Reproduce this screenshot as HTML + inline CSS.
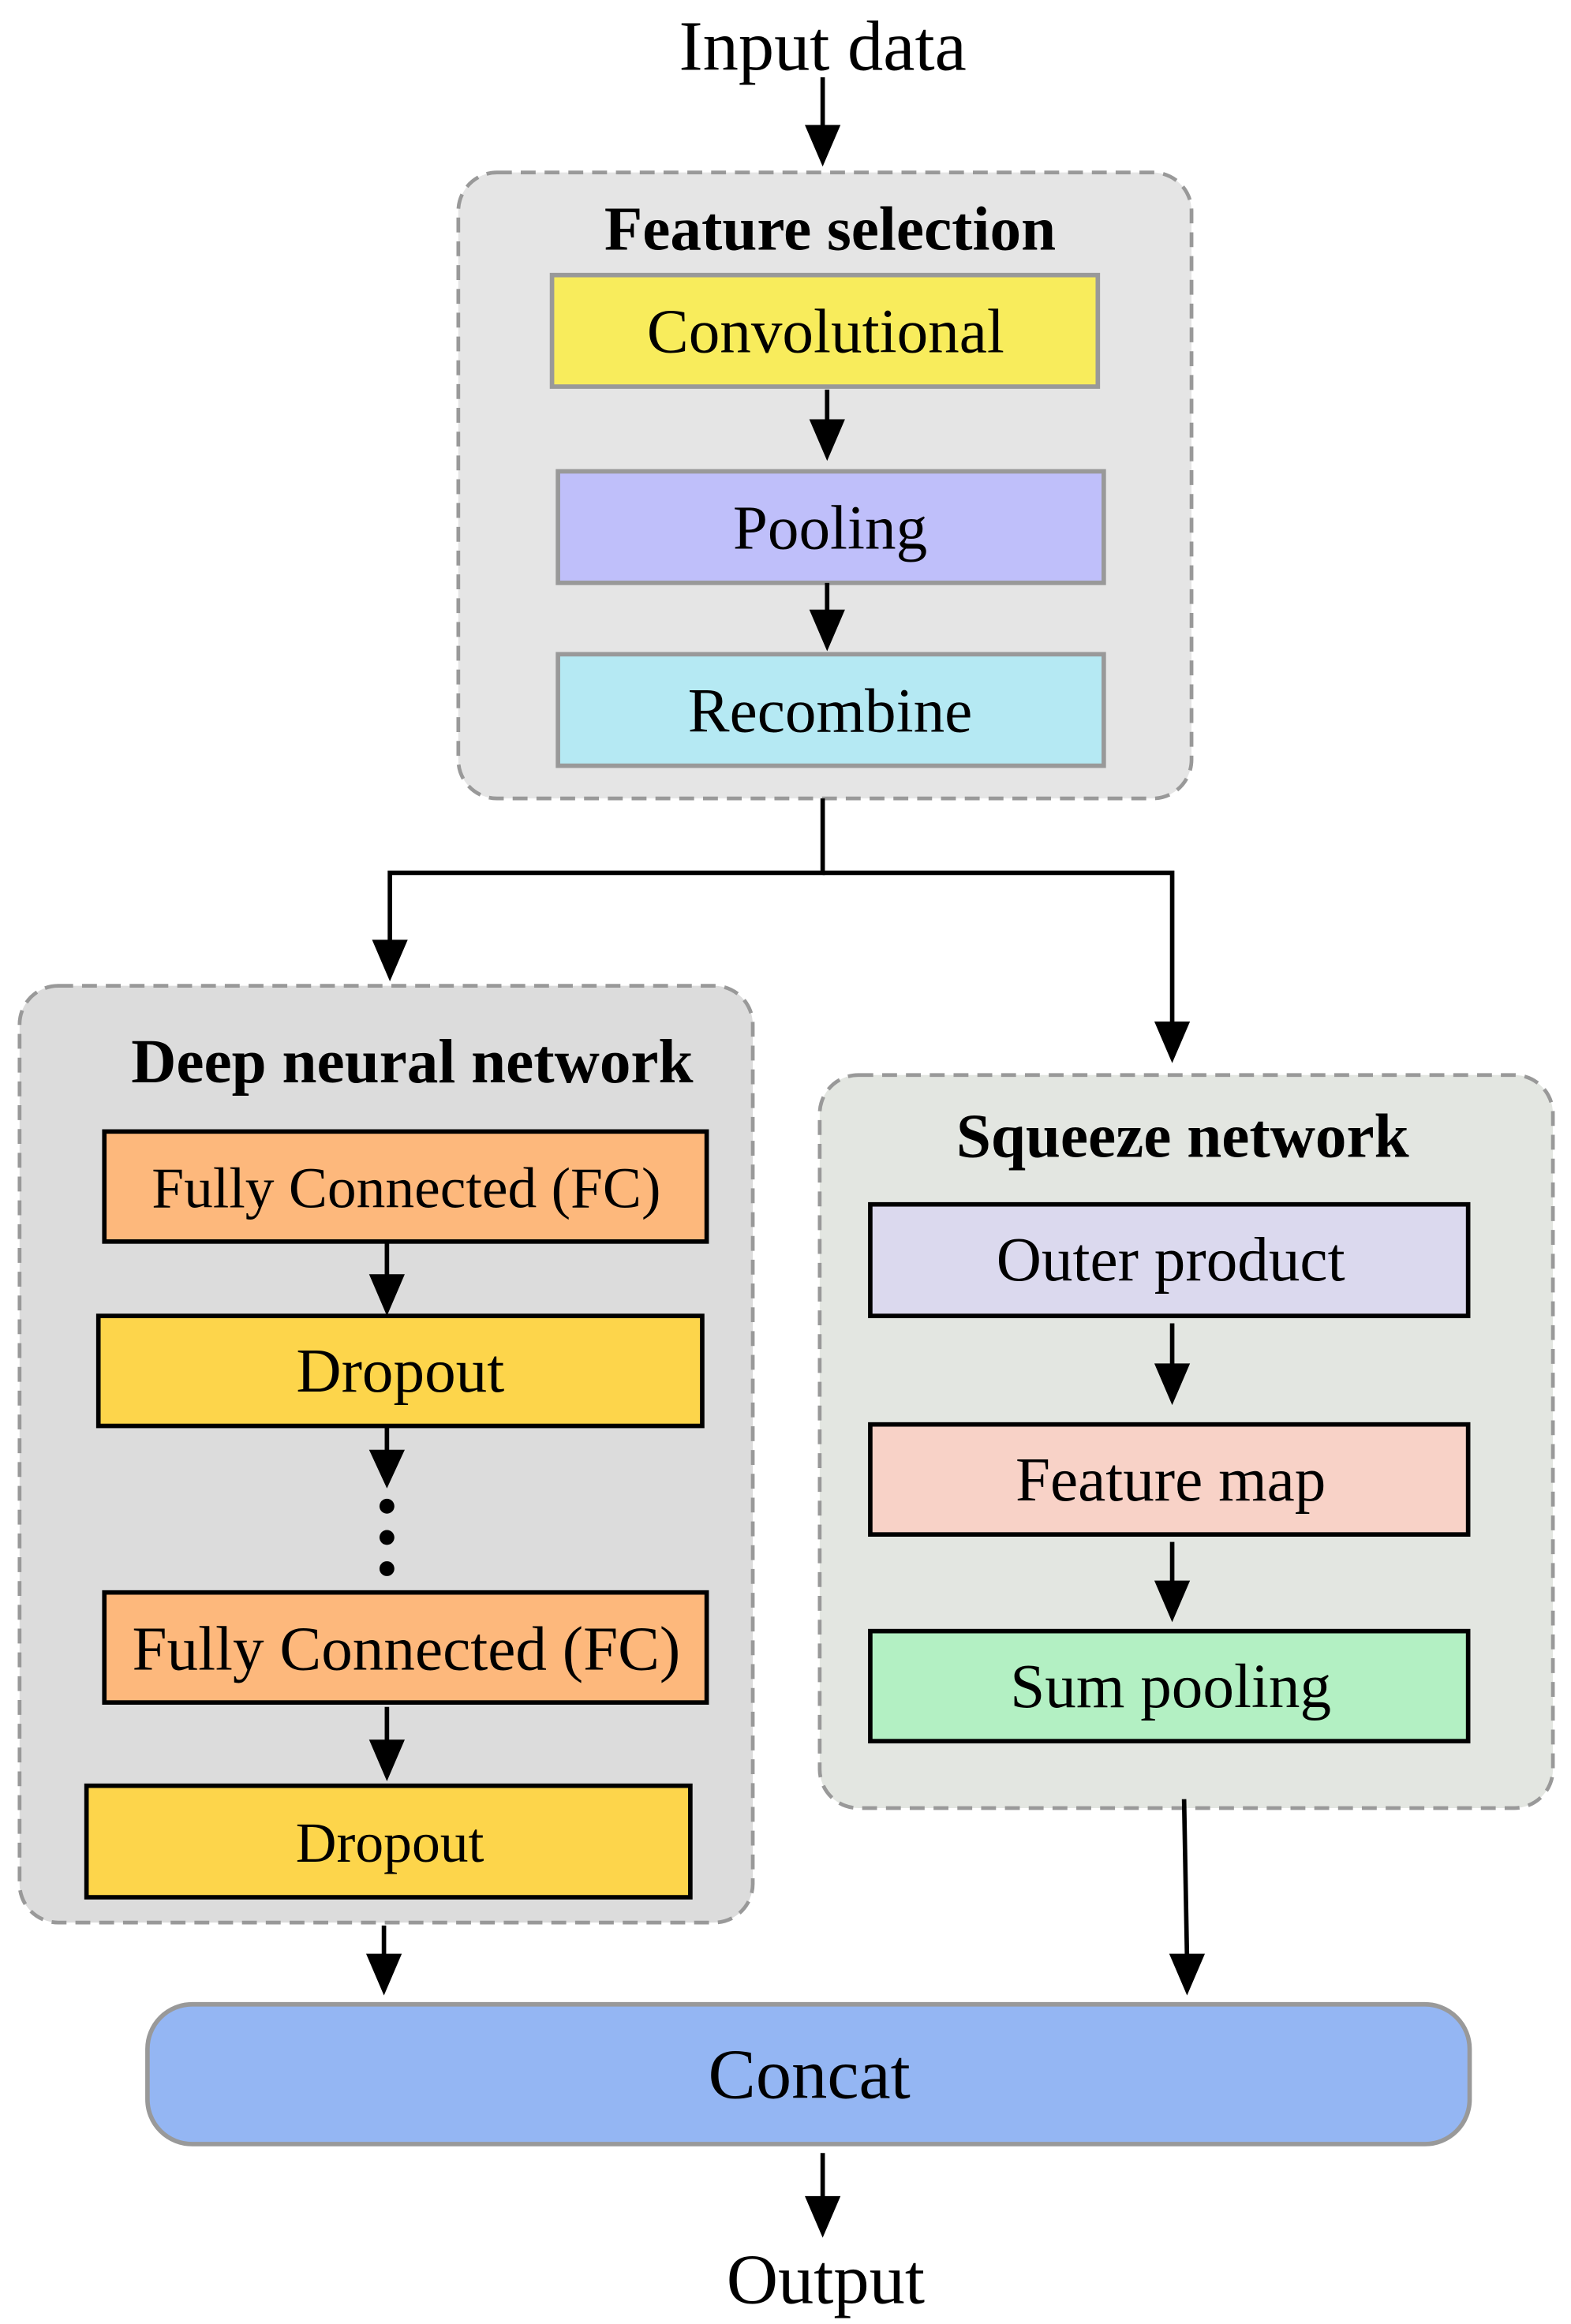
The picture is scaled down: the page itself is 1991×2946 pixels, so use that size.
<!DOCTYPE html>
<html><head><meta charset="utf-8"><style>
html,body{margin:0;padding:0;background:#fff;}
svg{display:block;}
text{font-family:"Liberation Serif",serif;fill:#000;}
</style></head><body>
<svg width="1991" height="2946" viewBox="0 0 1056 1563" xmlns="http://www.w3.org/2000/svg">
<text x="553" y="47" font-size="48" text-anchor="middle">Input data</text>
<rect x="308" y="116" width="493" height="421" rx="26" fill="#e5e5e5" stroke="#999" stroke-width="2.5" stroke-dasharray="10,6"/>
<text x="558" y="168" font-size="42" font-weight="bold" text-anchor="middle">Feature selection</text>
<rect x="371" y="185" width="367" height="75" fill="#f8ec5c" stroke="#999" stroke-width="3"/>
<text x="555" y="237" font-size="42" text-anchor="middle">Convolutional</text>
<rect x="375" y="317" width="367" height="75" fill="#bfbffa" stroke="#999" stroke-width="3"/>
<text x="558" y="369" font-size="42" text-anchor="middle">Pooling</text>
<rect x="375" y="440" width="367" height="75" fill="#b5e9f3" stroke="#999" stroke-width="3"/>
<text x="558" y="492" font-size="42" text-anchor="middle">Recombine</text>
<rect x="13" y="663" width="493" height="630" rx="26" fill="#dcdcdc" stroke="#999" stroke-width="2.5" stroke-dasharray="10,6"/>
<text x="277" y="728" font-size="42" font-weight="bold" text-anchor="middle">Deep neural network</text>
<rect x="70" y="761" width="405" height="74" fill="#fdb87c" stroke="#000" stroke-width="3"/>
<text x="273" y="812" font-size="39" text-anchor="middle">Fully Connected (FC)</text>
<rect x="66" y="885" width="406" height="74" fill="#fdd54b" stroke="#000" stroke-width="3"/>
<text x="269" y="936" font-size="42" text-anchor="middle">Dropout</text>
<circle cx="260" cy="1013" r="5" fill="#000"/>
<circle cx="260" cy="1034" r="5" fill="#000"/>
<circle cx="260" cy="1055" r="5" fill="#000"/>
<rect x="70" y="1071" width="405" height="74" fill="#fdb87c" stroke="#000" stroke-width="3"/>
<text x="273" y="1123" font-size="42" text-anchor="middle">Fully Connected (FC)</text>
<rect x="58" y="1201" width="406" height="75" fill="#fdd54b" stroke="#000" stroke-width="3"/>
<text x="262" y="1252" font-size="38" text-anchor="middle">Dropout</text>
<rect x="551" y="723" width="493" height="493" rx="26" fill="#e3e6e1" stroke="#999" stroke-width="2.5" stroke-dasharray="10,6"/>
<text x="795" y="778" font-size="42" font-weight="bold" text-anchor="middle">Squeeze network</text>
<rect x="585" y="810" width="402" height="75" fill="#dbd9ee" stroke="#000" stroke-width="3"/>
<text x="787" y="861" font-size="42" text-anchor="middle">Outer product</text>
<rect x="585" y="958" width="402" height="74" fill="#f8d2c7" stroke="#000" stroke-width="3"/>
<text x="787" y="1009" font-size="42" text-anchor="middle">Feature map</text>
<rect x="585" y="1097" width="402" height="74" fill="#b3f0c3" stroke="#000" stroke-width="3"/>
<text x="787" y="1148" font-size="42" text-anchor="middle">Sum pooling</text>
<rect x="99" y="1348" width="889" height="94" rx="30" fill="#94b6f3" stroke="#999" stroke-width="3"/>
<text x="544" y="1411" font-size="48" text-anchor="middle">Concat</text>
<text x="555" y="1549" font-size="48" text-anchor="middle">Output</text>
<g stroke="#000" stroke-width="3" fill="none">
<line x1="553" y1="52" x2="553" y2="90"/>
<line x1="556" y1="262" x2="556" y2="288"/>
<line x1="556" y1="392" x2="556" y2="416"/>
<polyline points="553,537 553,587 262,587 262,636"/>
<polyline points="553,587 788,587 788,690"/>
<line x1="260" y1="835" x2="260" y2="861"/>
<line x1="260" y1="960" x2="260" y2="980"/>
<line x1="260" y1="1148" x2="260" y2="1174"/>
<line x1="258" y1="1295" x2="258" y2="1318"/>
<line x1="788" y1="890" x2="788" y2="921"/>
<line x1="788" y1="1037" x2="788" y2="1067"/>
<line x1="796" y1="1210" x2="798" y2="1318"/>
<line x1="553" y1="1448" x2="553" y2="1481"/>
</g>
<g fill="#000">
<polygon points="541,84 565,84 553,112"/>
<polygon points="544,282 568,282 556,310"/>
<polygon points="544,410 568,410 556,438"/>
<polygon points="250,632 274,632 262,660"/>
<polygon points="776,687 800,687 788,715"/>
<polygon points="248,857 272,857 260,885"/>
<polygon points="248,975 272,975 260,1001"/>
<polygon points="248,1170 272,1170 260,1198"/>
<polygon points="246,1314 270,1314 258,1342"/>
<polygon points="776,917 800,917 788,945"/>
<polygon points="776,1063 800,1063 788,1091"/>
<polygon points="786,1314 810,1314 798,1342"/>
<polygon points="541,1477 565,1477 553,1505"/>
</g>
</svg>
</body></html>
